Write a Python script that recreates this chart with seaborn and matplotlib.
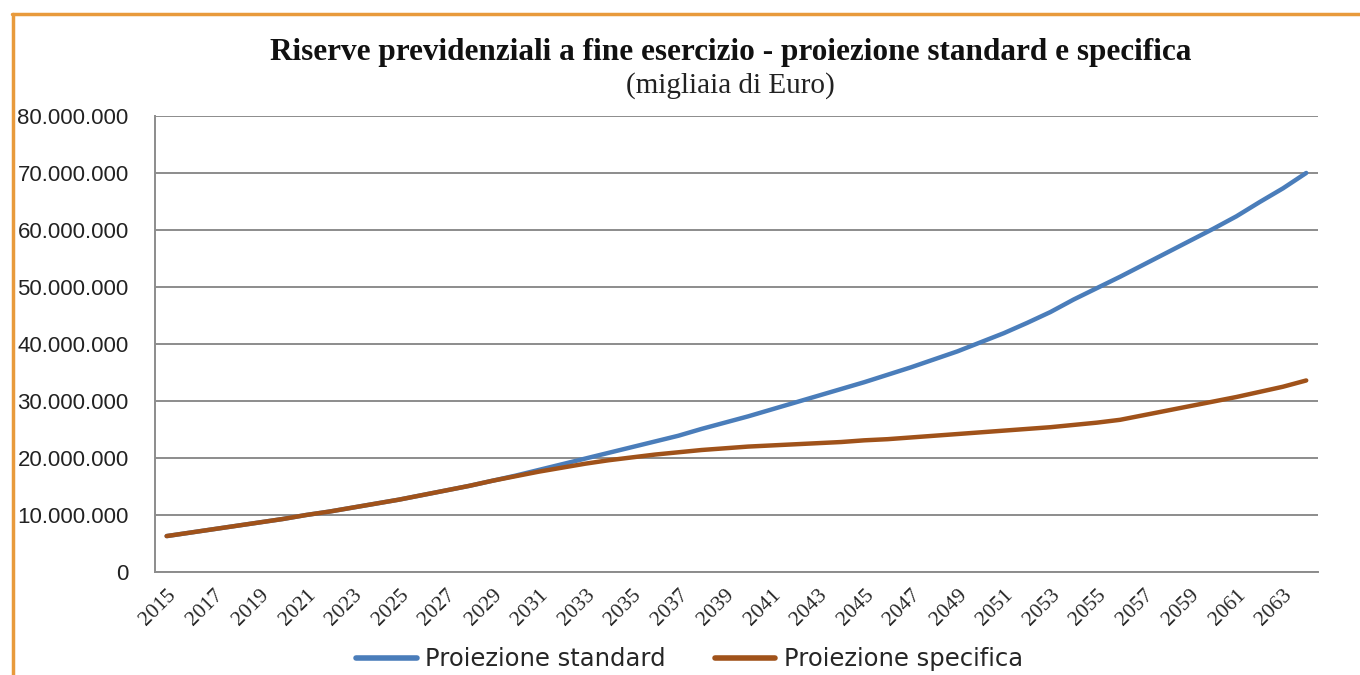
import numpy as np
import pandas as pd
import matplotlib
matplotlib.use("Agg")
import matplotlib.pyplot as plt
import seaborn as sns
from matplotlib.lines import Line2D
from matplotlib.ticker import FuncFormatter, MultipleLocator

# anni di proiezione
years = list(range(2015, 2065))

# riserve, milioni di migliaia di euro (lettura dal grafico)
standard = [6.3, 6.9, 7.5, 8.1, 8.7, 9.3, 10.0, 10.6, 11.3, 12.0,
            12.7, 13.5, 14.3, 15.1, 16.0, 16.9, 17.9, 18.9, 19.9, 20.9,
            21.9, 22.9, 23.9, 25.1, 26.2, 27.3, 28.5, 29.7, 30.9, 32.1,
            33.3, 34.6, 35.9, 37.3, 38.7, 40.3, 41.9, 43.7, 45.6, 47.8,
            49.8, 51.8, 53.9, 56.0, 58.1, 60.2, 62.4, 64.9, 67.3, 70.0]
specifica = [6.3, 6.9, 7.5, 8.1, 8.7, 9.3, 10.0, 10.6, 11.3, 12.0,
             12.7, 13.5, 14.3, 15.1, 16.0, 16.8, 17.6, 18.3, 19.0, 19.6,
             20.1, 20.6, 21.0, 21.4, 21.7, 22.0, 22.2, 22.4, 22.6, 22.8,
             23.1, 23.3, 23.6, 23.9, 24.2, 24.5, 24.8, 25.1, 25.4, 25.8,
             26.2, 26.7, 27.5, 28.3, 29.1, 29.9, 30.7, 31.6, 32.5, 33.6]

series_names = ["Proiezione standard", "Proiezione specifica"]
colors = {"Proiezione standard": "#4A7DBA", "Proiezione specifica": "#A0521A"}

df = pd.DataFrame({
    "Anno": years * 2,
    "Valore": [v * 1e6 for v in standard] + [v * 1e6 for v in specifica],
    "Serie": [series_names[0]] * len(years) + [series_names[1]] * len(years),
})

sns.set_style("white")

fig = plt.figure(figsize=(13.6, 6.75), dpi=100)
ax = fig.add_axes([0.114, 0.1526, 0.855, 0.6756])

sns.lineplot(data=df, x="Anno", y="Valore", hue="Serie", palette=colors,
             linewidth=3.2, ax=ax, legend=False)

ax.set_xlim(2014.5, 2064.5)
ax.set_ylim(0, 80e6)
ax.yaxis.set_major_locator(MultipleLocator(10e6))
ax.yaxis.set_major_formatter(FuncFormatter(lambda v, p: f"{int(v):,}".replace(",", ".")))
ax.grid(axis="y", color="#8C8C8C", linewidth=1.4)
ax.set_axisbelow(True)

# etichette ogni due anni, tacche tra le categorie
ax.set_xticks(years[::2])
ax.set_xticks([y - 0.5 for y in years] + [2064.5], minor=True)
ax.set_xticklabels([str(y) for y in years[::2]], rotation=45, ha="right",
                   rotation_mode="anchor", family="Liberation Serif", fontsize=15.5)
ax.tick_params(axis="x", which="major", length=0, pad=10)
ax.tick_params(axis="x", which="minor", length=6, width=1.3, color="#8C8C8C", direction="out")
ax.tick_params(axis="y", length=7, width=1.3, color="#8C8C8C", direction="out", pad=12)
for lab in ax.get_yticklabels():
    lab.set_family("Liberation Sans")
    lab.set_fontsize(16)
    lab.set_color("#222222")

ax.set_xlabel("")
ax.set_ylabel("")
for s in ["top", "right"]:
    ax.spines[s].set_visible(False)
for s in ["left", "bottom"]:
    ax.spines[s].set_color("#8C8C8C")
    ax.spines[s].set_linewidth(1.4)

fig.text(0.537, 0.922, "Riserve previdenziali a fine esercizio - proiezione standard e specifica",
         ha="center", va="center", family="Liberation Serif", fontweight="bold", fontsize=22.5,
         color="#111111")
fig.text(0.537, 0.873, "(migliaia di Euro)", ha="center", va="center",
         family="Liberation Serif", fontsize=21, color="#222222")

handles = [Line2D([], [], color=colors[n], linewidth=4) for n in series_names]
fig.legend(handles, series_names, loc="center", bbox_to_anchor=(0.507, 0.023), ncol=2,
           frameon=False, handlelength=2.5, columnspacing=2.0, handletextpad=0.35,
           prop={"family": "DejaVu Sans", "size": 17.5})

# cornice arancione
fig.add_artist(Line2D([12 / 1360, 1], [1 - 13.5 / 675, 1 - 13.5 / 675],
                      transform=fig.transFigure, color="#E89A3C", linewidth=2.5))
fig.add_artist(Line2D([12.5 / 1360, 12.5 / 1360], [0, 1 - 13.5 / 675],
                      transform=fig.transFigure, color="#E89A3C", linewidth=2.5))

fig.savefig("out.png", dpi=100)
